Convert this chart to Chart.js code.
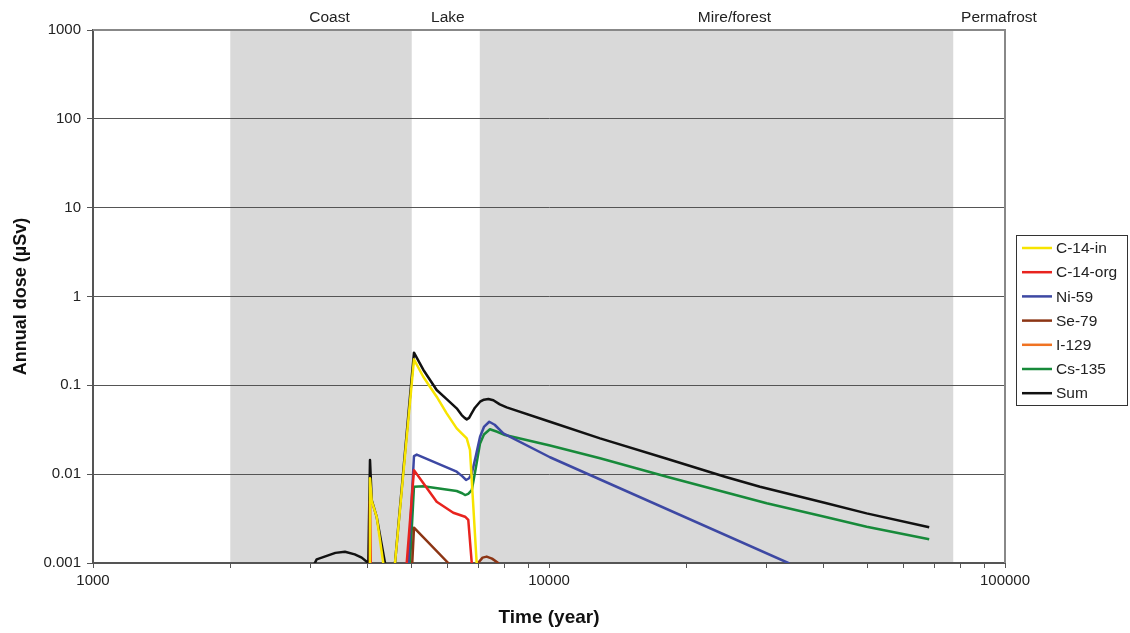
<!DOCTYPE html>
<html>
<head>
<meta charset="utf-8">
<script src="https://cdn.jsdelivr.net/npm/chart.js@4.4.0/dist/chart.umd.min.js"></script>
<style>
    html, body { margin: 0; padding: 0; background: #fff; }
    #wrap { width: 1130px; height: 633px; }
</style>
</head>
<body>
<div id="wrap"><canvas id="doseChart" width="1130" height="633"></canvas></div>
<script>
// 時間軸 (年) 與各核種劑量 (µSv)；低於 0.001 的值畫在圖框外被裁掉
const sumT = [3000, 3094, 3174, 3400, 3569, 3750, 3884, 4016, 4050, 4085, 4189, 4369, 4480, 4595, 5057, 5300, 5671, 5965, 6274, 6434, 6530, 6601, 6680, 6760, 6880, 7060, 7200, 7362, 7550, 7800, 8076, 10050, 12940, 18130, 24320, 29020, 40000, 49730, 68200];
const sumV = [0.0008, 0.0011, 0.00115, 0.0013, 0.00134, 0.00125, 0.00115, 0.001, 0.0144, 0.0051, 0.0033, 0.001, 0.0004, 0.001, 0.233, 0.15, 0.0886, 0.07, 0.0551, 0.0463, 0.043, 0.0414, 0.043, 0.048, 0.056, 0.0654, 0.069, 0.0701, 0.068, 0.061, 0.0565, 0.0389, 0.0253, 0.0149, 0.00935, 0.00722, 0.00479, 0.00362, 0.00252];

const c14inT = [4030, 4050, 4085, 4189, 4330, 4450, 4595, 5057, 5300, 5671, 5965, 6274, 6434, 6601, 6710, 6770, 6940, 7000];
const c14inV = [0.0008, 0.009, 0.005, 0.0033, 0.001, 0.0004, 0.001, 0.196, 0.125, 0.0745, 0.0484, 0.0328, 0.0288, 0.0253, 0.0187, 0.0086, 0.001, 0.0003];

const c14orgT = [4035, 4050, 4065, 4080, 4800, 4875, 5057, 5303, 5671, 6167, 6545, 6653, 6770, 6850];
const c14orgV = [0.0005, 0.005, 0.001, 0.0004, 0.0004, 0.001, 0.0111, 0.0079, 0.0049, 0.00368, 0.00332, 0.00305, 0.001, 0.0004];

const ni59T = [4800, 4916, 5057, 5128, 6274, 6450, 6577, 6680, 6770, 6918, 7060, 7200, 7396, 7600, 7940, 10050, 33480, 40000];
const ni59V = [0.0004, 0.001, 0.016, 0.0166, 0.01066, 0.0095, 0.0086, 0.009, 0.0101, 0.0164, 0.0264, 0.034, 0.0389, 0.036, 0.0288, 0.0155, 0.001, 0.0005];

const se79T = [4950, 5013, 5057, 6013, 6100, 6900, 6989, 7150, 7300, 7500, 7739, 7850];
const se79V = [0.0004, 0.001, 0.0025, 0.001, 0.0004, 0.0004, 0.001, 0.00115, 0.00118, 0.00112, 0.001, 0.0004];

const i129T = [];
const i129V = [];

const cs135T = [4850, 4956, 5057, 5303, 6274, 6450, 6545, 6650, 6770, 6918, 7060, 7200, 7421, 7700, 8008, 10050, 12940, 18130, 30020, 40000, 49730, 68200];
const cs135V = [0.0004, 0.001, 0.00722, 0.0073, 0.00646, 0.0061, 0.00582, 0.006, 0.0066, 0.0121, 0.0222, 0.028, 0.032, 0.03, 0.0276, 0.021, 0.0151, 0.00935, 0.0047, 0.00333, 0.00256, 0.00185];

// 環境分區
const zoneStart = [2000, 7050];
const zoneEnd = [5000, 77000];
const zoneNames = ['Coast', 'Lake', 'Mire/forest', 'Permafrost'];
const zoneLabelAt = [3300, 6000, 25500, 97000];

// 座標刻度
const xLabelTicks = [1000, 10000, 100000];
const yTicks = [0.001, 0.01, 0.1, 1, 10, 100, 1000];

function toPoints(ts, vs) {
    return ts.map((t, i) => ({ x: t, y: vs[i] }));
}

function series(label, ts, vs, color) {
    return {
        label: label,
        data: toPoints(ts, vs),
        borderColor: color,
        backgroundColor: color,
        borderWidth: 2.5,
        borderJoinStyle: 'round',
        pointRadius: 0,
        tension: 0,
        fill: false
    };
}

const bgPlugin = {
    id: 'zones',
    beforeDraw(chart) {
        const { ctx, chartArea: a, scales: { x } } = chart;
        ctx.save();
        ctx.fillStyle = '#d9d9d9';
        for (let i = 0; i < zoneStart.length; i++) {
            const x0 = x.getPixelForValue(zoneStart[i]);
            const x1 = x.getPixelForValue(zoneEnd[i]);
            ctx.fillRect(x0, a.top, x1 - x0, a.bottom - a.top);
        }
        ctx.restore();
    },
    afterDraw(chart) {
        const { ctx, chartArea: a, scales: { x } } = chart;
        ctx.save();
        // 圖框上緣與右緣
        ctx.strokeStyle = '#888';
        ctx.lineWidth = 2;
        ctx.beginPath();
        ctx.moveTo(a.left, a.top);
        ctx.lineTo(a.right, a.top);
        ctx.lineTo(a.right, a.bottom);
        ctx.stroke();

        // 分區名稱
        ctx.fillStyle = '#222';
        ctx.font = "15.5px 'Liberation Sans', Arial, sans-serif";
        ctx.textAlign = 'center';
        ctx.textBaseline = 'middle';
        zoneNames.forEach((name, i) => {
            ctx.fillText(name, x.getPixelForValue(zoneLabelAt[i]), 18);
        });

        // 圖例
        const lx = a.right + 11, ly = 235, lw = 111, lh = 170;
        ctx.strokeStyle = '#333';
        ctx.lineWidth = 1;
        ctx.strokeRect(lx + 0.5, ly + 0.5, lw, lh);
        ctx.textAlign = 'left';
        ctx.font = "15.5px 'Liberation Sans', Arial, sans-serif";
        chart.data.datasets.forEach((ds, i) => {
            const y = ly + 13 + i * 24.2;
            ctx.strokeStyle = ds.borderColor;
            ctx.lineWidth = 2.5;
            ctx.beginPath();
            ctx.moveTo(lx + 6, y);
            ctx.lineTo(lx + 36, y);
            ctx.stroke();
            ctx.fillStyle = '#222';
            ctx.fillText(ds.label, lx + 40, y + 1);
        });
        ctx.restore();
    }
};

const ctx = document.getElementById('doseChart');
const doseChart = new Chart(ctx, {
    type: 'line',
    data: {
        datasets: [
            series('C-14-in', c14inT, c14inV, '#f7e400'),
            series('C-14-org', c14orgT, c14orgV, '#e8231e'),
            series('Ni-59', ni59T, ni59V, '#3d48a3'),
            series('Se-79', se79T, se79V, '#8c3514'),
            series('I-129', i129T, i129V, '#f07322'),
            series('Cs-135', cs135T, cs135V, '#178a3a'),
            series('Sum', sumT, sumV, '#111111')
        ]
    },
    options: {
        responsive: false,
        animation: false,
        layout: {
            padding: { left: 0, right: 125, top: 30, bottom: 0 }
        },
        plugins: {
            legend: { display: false },
            tooltip: { enabled: false }
        },
        scales: {
            x: {
                type: 'logarithmic',
                min: 1000,
                max: 100000,
                afterBuildTicks(scale) {
                    const ticks = [];
                    for (let d = 1000; d < 100000; d *= 10) {
                        for (let m = 1; m < 10; m++) ticks.push({ value: d * m });
                    }
                    ticks.push({ value: 100000 });
                    scale.ticks = ticks;
                },
                afterFit(scale) {
                    scale.height = 70;
                },
                grid: {
                    drawOnChartArea: false,
                    drawTicks: true,
                    tickLength: 5,
                    color: '#555'
                },
                border: { display: true, color: '#555', width: 2 },
                ticks: {
                    autoSkip: false,
                    maxRotation: 0,
                    padding: 4,
                    color: '#222',
                    font: { size: 15, family: "'Liberation Sans', Arial, sans-serif" },
                    callback: function (value) {
                        return xLabelTicks.includes(value) ? String(value) : '';
                    }
                },
                title: {
                    display: true,
                    text: 'Time (year)',
                    color: '#111',
                    font: { size: 19, weight: 'bold', family: "'Liberation Sans', Arial, sans-serif" },
                    padding: { top: 0, bottom: 4 }
                }
            },
            y: {
                type: 'logarithmic',
                min: 0.001,
                max: 1000,
                afterBuildTicks(scale) {
                    scale.ticks = yTicks.map(v => ({ value: v }));
                },
                afterFit(scale) {
                    scale.width = 93;
                },
                grid: {
                    color: '#555',
                    lineWidth: 1,
                    tickLength: 6
                },
                border: { display: true, color: '#555', width: 2 },
                ticks: {
                    padding: 6,
                    color: '#222',
                    font: { size: 15, family: "'Liberation Sans', Arial, sans-serif" },
                    callback: function (value) {
                        return String(value);
                    }
                },
                title: {
                    display: true,
                    text: 'Annual dose (µSv)',
                    color: '#111',
                    font: { size: 18, weight: 'bold', family: "'Liberation Sans', Arial, sans-serif" },
                    padding: { top: 10, bottom: 0 }
                }
            }
        }
    },
    plugins: [bgPlugin]
});
</script>
</body>
</html>
